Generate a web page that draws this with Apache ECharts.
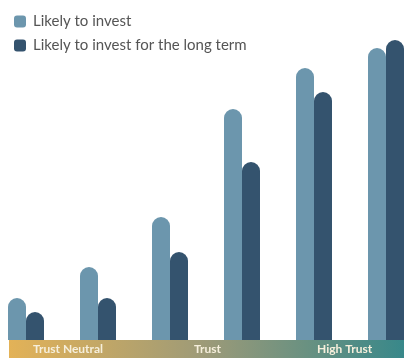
<!DOCTYPE html>
<html>
<head>
<meta charset="utf-8">
<script src="https://cdn.jsdelivr.net/npm/echarts@6/dist/echarts.min.js"></script>
<style>
  html, body { margin: 0; padding: 0; background: #fff; }
  #chart { width: 404px; height: 358px; }
</style>
</head>
<body>
<div id="chart"></div>
<script>
// 6 trust levels, from neutral to high trust
const categories = ['1', '2', '3', '4', '5', '6'];
const likelyInvest = [42, 73, 123, 231, 272, 292];
const likelyLongTerm = [28, 42, 88, 178, 248, 300];
const bandLabels = ['Trust Neutral', 'Trust', 'High Trust'];

const myChart = echarts.init(document.getElementById('chart'));

const option = {
  animation: false,
  textStyle: { fontFamily: 'Lato' },
  legend: {
    orient: 'vertical',
    left: 9,
    top: 8,
    icon: 'roundRect',
    itemWidth: 12,
    itemHeight: 12,
    itemGap: 7,
    textStyle: { fontSize: 15, color: '#555', padding: [0, 0, 0, 2], lineHeight: 17 }
  },
  grid: { left: 26, right: 18, top: 20, bottom: 18 },
  xAxis: {
    type: 'category',
    data: categories,
    boundaryGap: false,
    axisLine: { show: false },
    axisTick: { show: false },
    axisLabel: { show: false }
  },
  yAxis: {
    type: 'value',
    min: 0,
    max: 320,
    show: false,
    splitLine: { show: false }
  },
  graphic: [
    {
      type: 'rect',
      shape: { x: 9, y: 340, width: 395, height: 18 },
      style: {
        fill: new echarts.graphic.LinearGradient(0, 0, 1, 0, [
          { offset: 0, color: '#e3b257' },
          { offset: 0.5, color: '#9c9a78' },
          { offset: 1, color: '#38888a' }
        ])
      }
    },
    { type: 'text', left: 33, top: 343, style: { text: bandLabels[0], fill: '#f6efdc', font: 'bold 12px Lato' } },
    { type: 'text', left: 194, top: 343, style: { text: bandLabels[1], fill: '#f6efdc', font: 'bold 12px Lato' } },
    { type: 'text', left: 317, top: 343, style: { text: bandLabels[2], fill: '#f6efdc', font: 'bold 12px Lato' } }
  ],
  series: [
    {
      name: 'Likely to invest',
      type: 'bar',
      data: likelyInvest,
      barWidth: 18,
      barGap: '0%',
      clip: false,
      itemStyle: { color: '#6c96ad', borderRadius: [9, 9, 0, 0] }
    },
    {
      name: 'Likely to invest for the long term',
      type: 'bar',
      data: likelyLongTerm,
      barWidth: 18,
      barGap: '0%',
      clip: false,
      itemStyle: { color: '#34536e', borderRadius: [9, 9, 0, 0] }
    }
  ]
};

myChart.setOption(option);
</script>
</body>
</html>
